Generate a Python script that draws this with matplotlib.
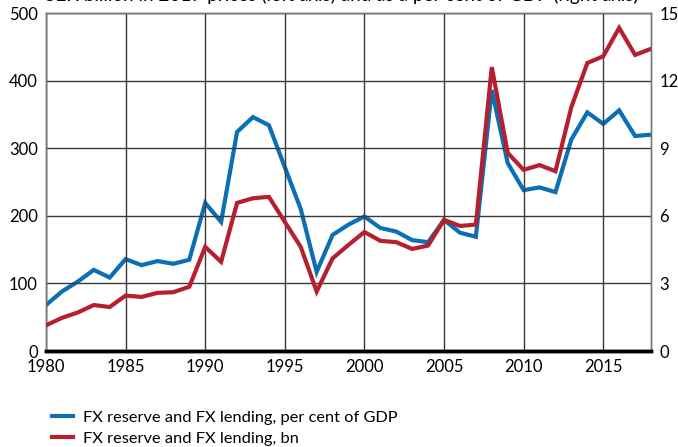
import matplotlib
matplotlib.use("Agg")
from matplotlib import pyplot as plt

years = list(range(1980, 2019))

# FX reserve and FX lending, SEK billion in 2017 prices (left axis)
bn = [38, 49, 57, 68, 65, 82, 80, 86, 87, 95,
      154, 132, 219, 226, 228, 191, 154, 88, 137, 157,
      176, 163, 161, 151, 156, 194, 185, 187, 420, 293,
      268, 275, 266, 361, 426, 436, 478, 438, 447]

# FX reserve and FX lending, per cent of GDP (right axis)
pct = [2.04, 2.64, 3.08, 3.60, 3.26, 4.08, 3.81, 3.99, 3.87, 4.05,
       6.57, 5.73, 9.72, 10.38, 10.02, 8.16, 6.30, 3.51, 5.15, 5.61,
       5.97, 5.46, 5.30, 4.92, 4.83, 5.82, 5.25, 5.07, 11.58, 8.34,
       7.14, 7.26, 7.05, 9.39, 10.59, 10.08, 10.68, 9.54, 9.60]

blue = '#0a6fb4'
red = '#b51f2e'

plt.rcParams['font.family'] = ['Lato', 'DejaVu Sans']

fig = plt.figure(figsize=(6.78, 4.47), dpi=100)
ax = fig.add_axes([46/678, 96/447, 605/678, 338/447])
ax2 = ax.twinx()

ax.set_xlim(1980, 2018)
ax.set_ylim(0, 500)
ax2.set_ylim(0, 15)
ax.set_xticks(range(1980, 2019, 5))
ax.set_yticks(range(0, 501, 100))
ax2.set_yticks(range(0, 16, 3))

ax.grid(True, color='#3a3a3a', lw=1.0)
ax.set_axisbelow(True)

ax.plot(years, bn, color=red, lw=3, solid_joinstyle='miter', zorder=3,
        label="FX reserve and FX lending, bn")
ax2.plot(years, pct, color=blue, lw=3, solid_joinstyle='miter', zorder=3,
         label="FX reserve and FX lending, per cent of GDP")

for a in (ax, ax2):
    a.tick_params(length=0, labelsize=12, pad=6)
    for s in ('left', 'right', 'top'):
        a.spines[s].set_color('#777777')
        a.spines[s].set_linewidth(1.0)
    a.spines['bottom'].set_color('black')
    a.spines['bottom'].set_linewidth(2.5)
ax.tick_params(axis='x', pad=6)

# red line drawn above blue like the source: move ax on top
ax.set_zorder(ax2.get_zorder() + 1)
ax.patch.set_visible(False)

fig.text(45/678, 1 - 1/447,
         "SEK billion in 2017 prices (left axis) and as a per cent of GDP (right axis)",
         fontsize=13.6, va='baseline', ha='left')

h1, l1 = ax2.get_legend_handles_labels()
h2, l2 = ax.get_legend_handles_labels()
fig.legend(h1 + h2, l1 + l2, loc='upper left', bbox_to_anchor=(45/678, 1 - 404/447),
           frameon=False, fontsize=11.8, handlelength=1.3, labelspacing=0.4,
           handletextpad=0.6, borderaxespad=0)

fig.savefig('out.png', dpi=100)
